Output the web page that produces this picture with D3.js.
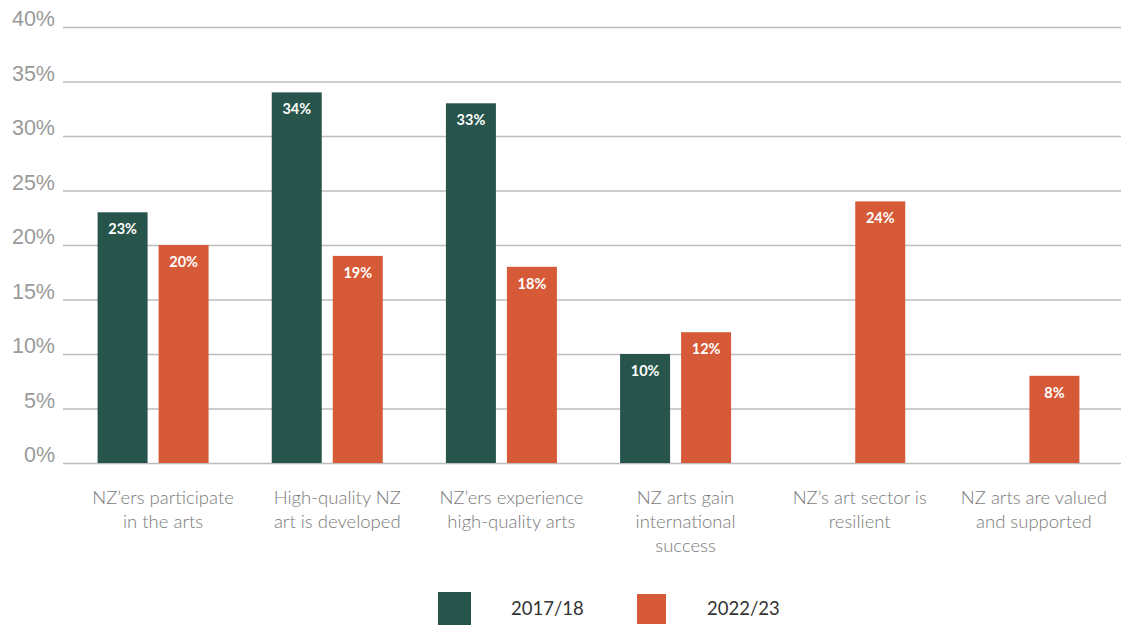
<!DOCTYPE html>
<html>
<head>
<meta charset="utf-8">
<script src="https://cdn.jsdelivr.net/npm/d3@7"></script>
<style>
  html, body { margin: 0; padding: 0; background: #fff; }
  svg { display: block; font-family: "Lato", "Open Sans", sans-serif; }
</style>
</head>
<body>
<svg id="chart" width="1121" height="628"></svg>
<script>
// Outcome categories (each label split into lines)
const categories = [
  ["NZ\u2019ers participate", "in the arts"],
  ["High-quality NZ", "art is developed"],
  ["NZ\u2019ers experience", "high-quality arts"],
  ["NZ arts gain", "international", "success"],
  ["NZ\u2019s art sector is", "resilient"],
  ["NZ arts are valued", "and supported"]
];
const seriesNames = ["2017/18", "2022/23"];
// Percentages per category; null where there is no value for that year
const values2017 = [23, 34, 33, 10, null, null];
const values2022 = [20, 19, 18, 12, 24, 8];
const yTicks = [0, 5, 10, 15, 20, 25, 30, 35, 40];
const colors = ["#27554b", "#d65a37"];

const svg = d3.select("#chart");
const margin = { left: 63, right: 0, top: 27, bottom: 165 };
const W = 1121, H = 628;

const y = d3.scaleLinear().domain([0, 40]).range([H - margin.bottom, margin.top]);
const x = d3.scaleBand().domain(d3.range(categories.length)).range([76, 1121]);
const barW = 50, barGap = 11;
const xs = d3.scaleOrdinal().domain([0, 1]).range([0, barW + barGap]);
const groupShift = -10;

// Gridlines with tick labels
const yAxis = d3.axisLeft(y).tickValues(yTicks).tickSize(-(W - margin.left)).tickFormat(d => d + "%");
const gy = svg.append("g").attr("transform", `translate(${margin.left},0)`).call(yAxis);
gy.select(".domain").remove();
gy.selectAll(".tick line").attr("stroke", "#bdbdbd").attr("stroke-width", 1.5);
gy.selectAll(".tick text")
  .attr("x", -8).attr("dy", "-0.05em")
  .attr("fill", "#9a9a9a").attr("font-size", 21.5).attr("font-weight", 300);

// Bars
const series = [values2017, values2022];
series.forEach((vals, si) => {
  const g = svg.append("g");
  const data = vals.map((v, i) => ({ i, v })).filter(d => d.v != null);
  const left = d => x(d.i) + x.bandwidth() / 2 + groupShift - (barW * 2 + barGap) / 2 + xs(si);
  g.selectAll("rect").data(data).join("rect")
    .attr("x", left)
    .attr("y", d => y(d.v))
    .attr("width", barW)
    .attr("height", d => y(0) - y(d.v))
    .attr("fill", colors[si]);
  g.selectAll("text").data(data).join("text")
    .attr("x", d => left(d) + barW / 2)
    .attr("y", d => y(d.v) + 22)
    .attr("text-anchor", "middle")
    .attr("fill", "#fff")
    .attr("font-size", 14.5)
    .attr("font-weight", 700)
    .text(d => d.v + "%");
});

// Category labels
const cl = svg.append("g");
categories.forEach((lines, i) => {
  const cx = x(i) + x.bandwidth() / 2;
  const t = cl.append("text")
    .attr("x", cx)
    .attr("y", 504)
    .attr("text-anchor", "middle")
    .attr("fill", "#7a7a7a")
    .attr("font-size", 18.5)
    .attr("font-weight", 300);
  lines.forEach((ln, k) => {
    t.append("tspan").attr("x", cx).attr("dy", k === 0 ? 0 : 24).text(ln);
  });
});

// Legend
const legend = svg.append("g");
const legendX = [438, 637];
seriesNames.forEach((name, si) => {
  legend.append("rect")
    .attr("x", legendX[si]).attr("y", si === 0 ? 592 : 594)
    .attr("width", si === 0 ? 33 : 29).attr("height", si === 0 ? 33 : 30)
    .attr("fill", colors[si]);
  legend.append("text")
    .attr("x", legendX[si] + (si === 0 ? 73 : 70)).attr("y", 615)
    .attr("fill", "#333").attr("font-size", 18.5).attr("font-weight", 400)
    .text(name);
});
</script>
</body>
</html>
